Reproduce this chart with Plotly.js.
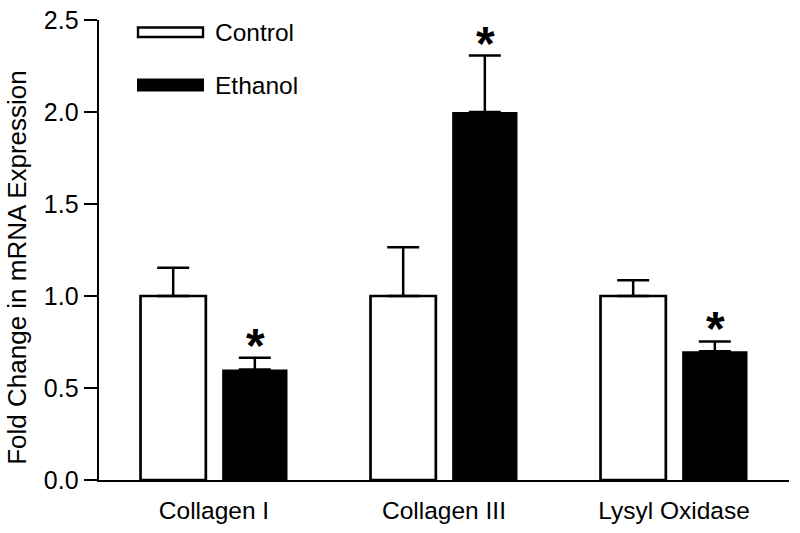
<!DOCTYPE html>
<html>
<head>
<meta charset="utf-8">
<script src="https://cdn.plot.ly/plotly-3.0.1.min.js"></script>
<style>html,body{margin:0;padding:0;background:#fff;}#chart{width:800px;height:533px;}</style>
</head>
<body>
<div id="chart"></div>
<script>
var categories = ['Collagen I', 'Collagen III', 'Lysyl Oxidase'];
var controlValues = [1.0, 1.0, 1.0];
var controlErr = [0.153, 0.265, 0.085];
var ethanolValues = [0.6, 2.0, 0.7];
var ethanolErr = [0.065, 0.307, 0.053];
var ethanolSig = ['*', '*', '*'];
var yTicks = [0, 0.5, 1.0, 1.5, 2.0, 2.5];
var yTickLabels = ['0.0', '0.5', '1.0', '1.5', '2.0', '2.5'];
var seriesNames = ['Control', 'Ethanol'];
var yTitle = 'Fold Change in mRNA Expression';

var FONT = 'Liberation Sans, Arial, Helvetica, sans-serif';

var zeros = categories.map(function(){ return 0; });

var traces = [
  {
    type: 'bar', name: seriesNames[0], x: categories, y: controlValues,
    marker: {color: '#ffffff', line: {color: '#000000', width: 2.7}},
    error_y: {type: 'data', symmetric: false, array: controlErr, arrayminus: zeros,
              color: '#000000', thickness: 2.5, width: 16},
    showlegend: false, hoverinfo: 'none'
  },
  {
    type: 'bar', name: seriesNames[1], x: categories, y: ethanolValues,
    marker: {color: '#000000', line: {color: '#000000', width: 0}},
    error_y: {type: 'data', symmetric: false, array: ethanolErr, arrayminus: zeros,
              color: '#000000', thickness: 2.5, width: 16},
    showlegend: false, hoverinfo: 'none'
  }
];

var annotations = [];
categories.forEach(function(c, i){
  if (ethanolSig[i]) {
    annotations.push({
      x: c, y: ethanolValues[i] + ethanolErr[i], xref: 'x', yref: 'y',
      text: '<b>' + ethanolSig[i] + '</b>', showarrow: false,
      xshift: 41, yanchor: 'bottom', yshift: -16,
      font: {family: FONT, size: 48, color: '#000'}
    });
  }
});

// legend drawn manually
var L = 99, W = 690, B = 480, H = 459.5;
function px(x){ return (x - L) / W; }
function py(y){ return (B - y) / H; }
var shapes = [
  {type: 'rect', xref: 'paper', yref: 'paper', x0: px(138), x1: px(203), y0: py(37.5), y1: py(28),
   line: {color: '#000', width: 2.4}, fillcolor: '#fff'},
  {type: 'rect', xref: 'paper', yref: 'paper', x0: px(137), x1: px(204), y0: py(92), y1: py(79),
   line: {color: '#000', width: 0}, fillcolor: '#000'}
];
annotations.push({xref: 'paper', yref: 'paper', x: px(213), y: py(33), xanchor: 'left', yanchor: 'middle',
  text: seriesNames[0], showarrow: false, font: {family: FONT, size: 24.5, color: '#000'}});
annotations.push({xref: 'paper', yref: 'paper', x: px(213), y: py(86), xanchor: 'left', yanchor: 'middle',
  text: seriesNames[1], showarrow: false, font: {family: FONT, size: 24.5, color: '#000'}});
annotations.push({xref: 'paper', yref: 'paper', x: px(17), y: py(268), xanchor: 'center', yanchor: 'middle',
  textangle: -90, text: yTitle, showarrow: false, font: {family: FONT, size: 26, color: '#000'}});

var layout = {
  width: 800, height: 533,
  margin: {l: 99, r: 11, t: 20, b: 53, pad: 0},
  paper_bgcolor: '#fff', plot_bgcolor: '#fff',
  barmode: 'group', bargap: 0.29, bargroupgap: 0.2,
  showlegend: false,
  font: {family: FONT, size: 24, color: '#000'},
  xaxis: {
    type: 'category', range: [-0.5, 2.5], showline: true, linecolor: '#000', linewidth: 2.4,
    ticks: '', showgrid: false, zeroline: false, ticklabelstandoff: 7,
    tickfont: {family: FONT, size: 24.5, color: '#000'},
    fixedrange: true
  },
  yaxis: {
    range: [0, 2.5], showline: true, linecolor: '#000', linewidth: 2.4,
    ticks: 'outside', ticklen: 13, tickwidth: 2.4, tickcolor: '#000',
    tickvals: yTicks, ticktext: yTickLabels, showgrid: false, zeroline: false,
    tickfont: {family: FONT, size: 25, color: '#000'},
    fixedrange: true
  },
  shapes: shapes,
  annotations: annotations
};

Plotly.newPlot('chart', traces, layout, {displayModeBar: false, staticPlot: true});
</script>
</body>
</html>
